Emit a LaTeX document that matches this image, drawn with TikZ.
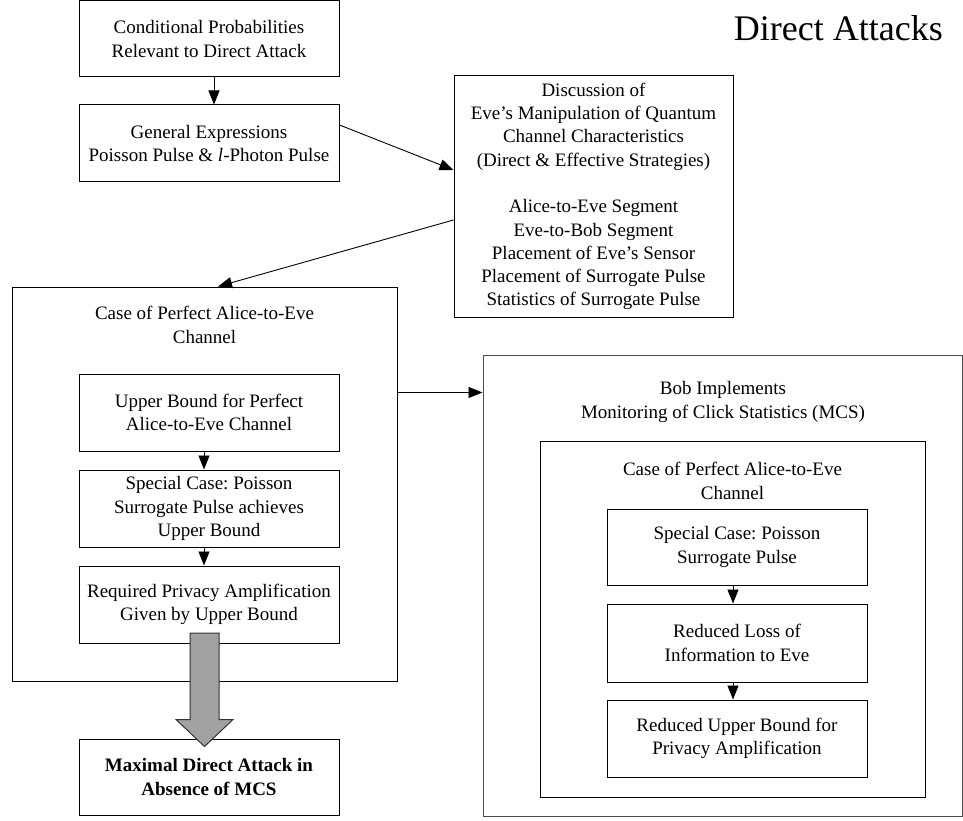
\documentclass[tikz,border=0pt]{standalone}
\usepackage{fontspec}
\setmainfont{Liberation Serif}
\usetikzlibrary{calc,arrows.meta}
\frenchspacing
\begin{document}
\begin{tikzpicture}[x=1pt,y=-1pt,
  txt/.style={font=\fontsize{19}{23.3}\selectfont, align=center, inner sep=0pt},
  box/.style={txt, draw=black, line width=1pt, minimum width=260pt, minimum height=77pt},
  bigbox/.style={draw=black, line width=1pt, inner sep=0pt},
  arr/.style={line width=0.9pt, -{Triangle[length=14pt,width=11pt]}},
  lbl/.style={txt}]
\useasboundingbox (0,0) rectangle (963,821);

\node[txt, font=\fontsize{36}{40}\selectfont, anchor=base east] (title) at (943,41) {Direct Attacks};

\node[box, minimum height=76pt] (cp) at (209,39) {Conditional Probabilities\\Relevant to Direct Attack};
\node[box] (ge) at (209,143.5) {General Expressions\\Poisson Pulse \& \textit{l}-Photon Pulse};

\node[box, minimum width=279pt, minimum height=241pt] (disc) at (593.5,196.5)
  {Discussion of\\Eve’s Manipulation of Quantum\\Channel Characteristics\\(Direct \& Effective Strategies)\\[23.3pt]Alice-to-Eve Segment\\Eve-to-Bob Segment\\Placement of Eve’s Sensor\\Placement of Surrogate Pulse\\Statistics of Surrogate Pulse};

% left big box
\node[bigbox, minimum width=385pt, minimum height=394pt] (lbox) at (204.5,484) {};
\node[lbl] (llbl) at (204.5,325) {Case of Perfect Alice-to-Eve\\Channel};
\node[box] (ub) at (209,412.5) {Upper Bound for Perfect\\Alice-to-Eve Channel};
\node[box] (sc) at (209,508.5) {Special Case: Poisson\\Surrogate Pulse achieves\\Upper Bound};
\node[box] (rpa) at (209,604.5) {Required Privacy Amplification\\Given by Upper Bound};
\node[box, minimum height=76pt, font=\fontsize{19}{23.3}\selectfont\bfseries] (max) at (209,777) {Maximal Direct Attack in\\Absence of MCS};

% right big box
\node[bigbox, draw=black!70, minimum width=479pt, minimum height=461pt] (rbox) at (722.5,585.5) {};
\node[lbl] (rlbl) at (723,402) {Bob Implements\\Monitoring of Click Statistics (MCS)};
\node[bigbox, minimum width=385pt, minimum height=356pt] (ibox) at (732.5,619) {};
\node[lbl] (ilbl) at (732.5,481) {Case of Perfect Alice-to-Eve\\Channel};
\node[box, minimum height=76pt] (rs1) at (737,547) {Special Case: Poisson\\Surrogate Pulse};
\node[box, minimum height=78pt] (rs2) at (737,643) {Reduced Loss of\\Information to Eve};
\node[box] (rs3) at (737,738.5) {Reduced Upper Bound for\\Privacy Amplification};

% connectors
\draw[arr] ([xshift=5pt]cp.south) -- ([xshift=5pt]ge.north);
\draw[arr] ($(ge.east)+(0,-18.5)$) -- ($(disc.west)+(0,-26.5)$);
\draw[arr] ($(disc.west)+(0,23.5)$) -- ($(lbox.north)+(13.5,0)$);
\draw[arr] ([xshift=-5pt]ub.south) -- ([xshift=-5pt]sc.north);
\draw[arr] ([xshift=-5pt]sc.south) -- ([xshift=-5pt]rpa.north);
\draw[arr] ($(lbox.north east)+(0,106)$) coordinate (lr) -- (lr -| rbox.west);
\draw[arr] ([xshift=-4pt]rs1.south) -- ([xshift=-4pt]rs2.north);
\draw[arr] ([xshift=-4pt]rs2.south) -- ([xshift=-4pt]rs3.north);

% big gray arrow
\coordinate (gtop) at ($(rpa.south)+(-4.5,-10.5)$);
\coordinate (gtip) at ($(max.north)+(-4.5,8)$);
\draw[line width=1pt, draw=black!80, fill=black!37]
  ($(gtop)+(-14.5,0)$) -- ($(gtop)+(14.5,0)$) -- ($(gtip)+(14.5,-27)$) -- ($(gtip)+(28.5,-27)$)
  -- (gtip) -- ($(gtip)+(-28.5,-27)$) -- ($(gtip)+(-14.5,-27)$) -- cycle;
\end{tikzpicture}
\end{document}
